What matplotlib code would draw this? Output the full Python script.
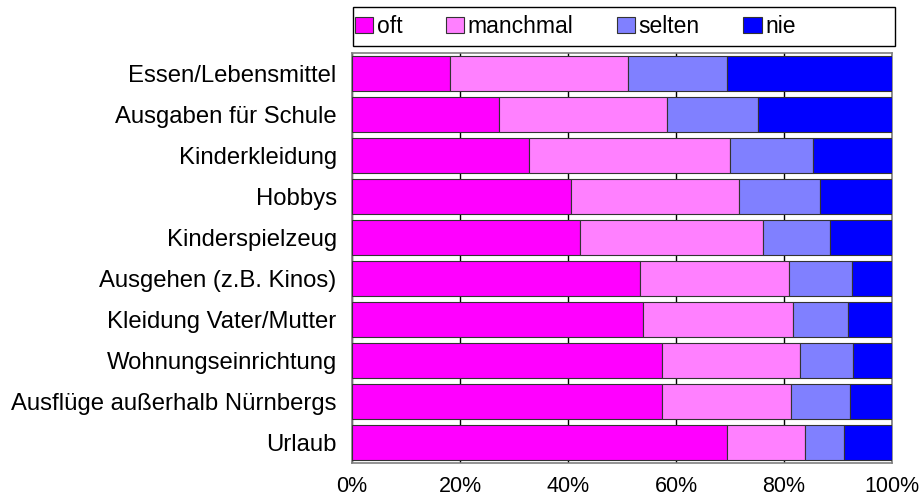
import matplotlib
matplotlib.use("Agg")
import matplotlib.pyplot as plt
from matplotlib.patches import Rectangle
import numpy as np

categories = ["Essen/Lebensmittel", "Ausgaben für Schule", "Kinderkleidung", "Hobbys",
              "Kinderspielzeug", "Ausgehen (z.B. Kinos)", "Kleidung Vater/Mutter",
              "Wohnungseinrichtung", "Ausflüge außerhalb Nürnbergs", "Urlaub"]
oft = [18.1, 27.2, 32.8, 40.5, 42.3, 53.3, 53.8, 57.4, 57.4, 69.5]
manchmal = [33.0, 31.2, 37.2, 31.2, 33.8, 27.6, 27.8, 25.6, 23.8, 14.3]
selten = [18.4, 16.7, 15.4, 15.0, 12.5, 11.6, 10.3, 9.7, 11.0, 7.3]
nie = [30.5, 24.9, 14.6, 13.3, 11.4, 7.5, 8.1, 7.3, 7.8, 8.9]
series_names = ["oft", "manchmal", "selten", "nie"]
colors = ["#FF00FF", "#FF80FF", "#8080FF", "#0000FF"]
xticks = [0, 20, 40, 60, 80, 100]
xticklabels = ["0%", "20%", "40%", "60%", "80%", "100%"]

plt.rcParams['font.family'] = ['Liberation Sans', 'DejaVu Sans']

fig = plt.figure(figsize=(9.22, 4.95), dpi=100)
ax = fig.add_axes([0.3818, 0.0646, 0.9675 - 0.3818, 0.893 - 0.0646])

y = np.arange(len(categories))
left = np.zeros(len(categories))
handles = []
for vals, name, c in zip([oft, manchmal, selten, nie], series_names, colors):
    b = ax.barh(y, vals, left=left, height=0.87, color=c, edgecolor="#333333",
                linewidth=0.8, label=name, zorder=3)
    handles.append(b)
    left = left + np.array(vals)

ax.set_ylim(len(categories) - 0.5, -0.5)
ax.set_xlim(0, 100)
ax.set_yticks(y)
ax.set_yticklabels(categories, fontsize=17.2)
ax.tick_params(axis='y', length=0, pad=11)
ax.set_xticks(xticks)
ax.set_xticklabels(xticklabels, fontsize=15.5)
ax.tick_params(axis='x', length=0, pad=9)
ax.xaxis.grid(True, color="black", linewidth=1.0, zorder=0)
ax.set_axisbelow(True)
for s in ax.spines.values():
    s.set_color("#808080")
    s.set_linewidth(1.2)

# legend frame
fig.add_artist(Rectangle((353 / 922, 1 - 46 / 495), (895 - 353) / 922, 39 / 495,
                         transform=fig.transFigure, facecolor="white",
                         edgecolor="black", linewidth=1.0))
leg = fig.legend(handles=handles, labels=series_names, loc="center left",
                 bbox_to_anchor=(0.380, 1 - 26.5 / 495),
                 ncol=4, fontsize=16.5, frameon=False,
                 handlelength=0.8, handleheight=0.75,
                 handletextpad=0.15, columnspacing=1.9, borderaxespad=0,
                 borderpad=0.2)
for h in leg.legend_handles:
    h.set_edgecolor("#333333")

fig.savefig("out.png", dpi=100)
